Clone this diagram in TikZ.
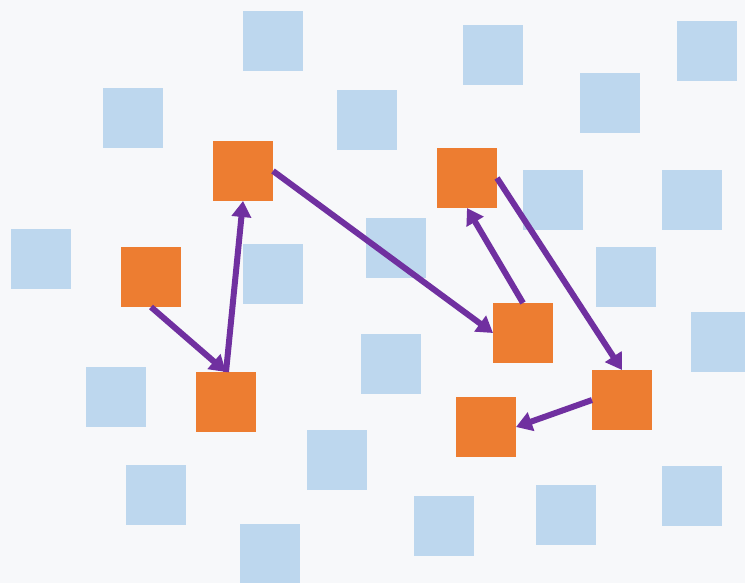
\documentclass[tikz,border=0pt]{standalone}
\usetikzlibrary{arrows.meta}
\definecolor{bgcol}{HTML}{F7F8FA}
\definecolor{bluesq}{HTML}{BDD7EE}
\definecolor{orangesq}{HTML}{ED7D31}
\definecolor{arrowcol}{HTML}{7030A0}
\tikzset{
  sq/.style={anchor=north west, minimum size=60pt, inner sep=0pt, outer sep=0pt},
  bluebox/.style={sq, fill=bluesq},
  orangebox/.style={sq, fill=orangesq},
  link/.style={draw=arrowcol, line width=6pt, -{Triangle[length=16pt,width=19pt]}}
}
\begin{document}
\begin{tikzpicture}[x=1pt,y=-1pt]
  \fill[bgcol] (0,0) rectangle (745,583);
  \useasboundingbox (0,0) rectangle (745,583);
  \begin{scope}
    \clip (0,0) rectangle (745,583);
    % scattered background squares
    \node[bluebox] (b1)  at (243,11)  {};
    \node[bluebox] (b2)  at (463,25)  {};
    \node[bluebox] (b3)  at (677,21)  {};
    \node[bluebox] (b4)  at (103,88)  {};
    \node[bluebox] (b5)  at (337,90)  {};
    \node[bluebox] (b6)  at (580,73)  {};
    \node[bluebox] (b7)  at (523,170) {};
    \node[bluebox] (b8)  at (662,170) {};
    \node[bluebox] (b9)  at (11,229)  {};
    \node[bluebox] (b10) at (366,218) {};
    \node[bluebox] (b11) at (243,244) {};
    \node[bluebox] (b12) at (596,247) {};
    \node[bluebox] (b13) at (691,312) {};
    \node[bluebox] (b14) at (361,334) {};
    \node[bluebox] (b15) at (86,367)  {};
    \node[bluebox] (b16) at (307,430) {};
    \node[bluebox] (b17) at (126,465) {};
    \node[bluebox] (b18) at (414,496) {};
    \node[bluebox] (b19) at (536,485) {};
    \node[bluebox] (b20) at (662,466) {};
    \node[bluebox] (b21) at (240,524) {};
  \end{scope}
  % highlighted squares
  \node[orangebox] (A) at (213,141) {};
  \node[orangebox] (B) at (437,148) {};
  \node[orangebox] (C) at (121,247) {};
  \node[orangebox] (D) at (493,303) {};
  \node[orangebox] (E) at (196,372) {};
  \node[orangebox] (F) at (592,370) {};
  \node[orangebox] (G) at (456,397) {};
  % path between the highlighted squares
  \draw[link] (C.south) -- (E.north);
  \draw[link] (E.north) -- (A.south);
  \draw[link] (A.east) -- (D.west);
  \draw[link] (D.north) -- (B.south);
  \draw[link] (B.east) -- (F.north);
  \draw[link] (F.west) -- (G.east);
\end{tikzpicture}
\end{document}
